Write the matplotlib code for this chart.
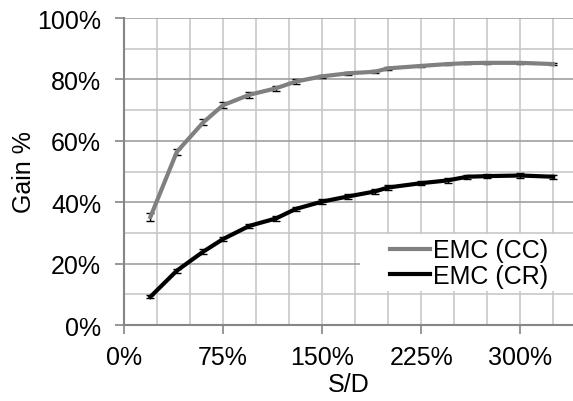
import numpy as np
import matplotlib.pyplot as plt
from matplotlib.lines import Line2D
from matplotlib.patches import Rectangle
from matplotlib.ticker import MultipleLocator, FuncFormatter

plt.rcParams['font.family'] = ['Liberation Sans', 'DejaVu Sans']

# ganho medido em funcao da razao S/D (em %)
sd = [20, 40, 60, 75, 95, 115, 130, 150, 170, 190, 200, 225, 245, 260, 275, 300, 325]
gain_cc = [35.2, 56.4, 66.0, 71.6, 75.0, 77.1, 79.3, 81.0, 82.0, 82.5, 83.6, 84.4, 85.0, 85.3, 85.4, 85.4, 85.0]
err_cc = [1.35, 1.0, 1.0, 1.0, 1.0, 0.8, 0.7, 0.6, 0.5, 0.5, 0.4, 0.3, 0.3, 0.3, 0.3, 0.3, 0.3]
gain_cr = [9.2, 17.7, 23.9, 28.0, 32.3, 34.7, 37.8, 40.2, 41.9, 43.5, 44.8, 46.2, 47.1, 48.3, 48.5, 48.7, 48.3]
err_cr = [0.5, 0.6, 0.7, 0.7, 0.7, 0.7, 0.7, 0.7, 0.7, 0.7, 0.7, 0.7, 0.7, 0.7, 0.7, 0.7, 0.7]

cor_cc = '#808080'
cor_cr = 'black'
fs = 18

fig = plt.figure(figsize=(5.73, 4.02), dpi=100)
ax = fig.add_axes([0.2164, 0.189, 0.7836, 0.7637])

ax.errorbar(sd, gain_cc, yerr=err_cc, color=cor_cc, lw=3, ecolor='black',
            elinewidth=1, capsize=3, capthick=1, zorder=3)
ax.errorbar(sd, gain_cr, yerr=err_cr, color=cor_cr, lw=3, ecolor='black',
            elinewidth=1, capsize=3, capthick=1, zorder=3)

ax.set_xlim(0, 340)
ax.set_ylim(0, 100)
ax.xaxis.set_major_locator(MultipleLocator(75))
ax.xaxis.set_minor_locator(MultipleLocator(25))
ax.yaxis.set_major_locator(MultipleLocator(20))
ax.yaxis.set_minor_locator(MultipleLocator(10))
pct = FuncFormatter(lambda v, p: f'{v:.0f}%')
ax.xaxis.set_major_formatter(pct)
ax.yaxis.set_major_formatter(pct)

ax.set_axisbelow(True)
ax.grid(True, which='major', axis='y', color='#a0a0a0', lw=1.2)
ax.grid(True, which='minor', axis='y', color='#c8c8c8', lw=1.2)
ax.grid(True, which='both', axis='x', color='#c8c8c8', lw=1.2)

for s in ['top', 'right']:
    ax.spines[s].set_visible(False)
for s in ['left', 'bottom']:
    ax.spines[s].set_color('#868686')
    ax.spines[s].set_linewidth(1.5)

ax.tick_params(which='major', direction='out', length=6.5, width=1.2, color='#868686',
               labelsize=fs)
ax.tick_params(axis='y', pad=10)
ax.tick_params(axis='x', pad=8)
ax.tick_params(which='minor', length=0)

ax.set_xlabel('S/D', fontsize=fs, labelpad=2)
ax.set_ylabel('Gain %', fontsize=fs, labelpad=1)

# fundo branco da legenda sobre a grade
ax.add_patch(Rectangle((360 / 573, 1 - 292 / 402), 213 / 573, 57 / 402,
                       transform=fig.transFigure, facecolor='white',
                       edgecolor='none', zorder=1))
handles = [Line2D([], [], color=cor_cc, lw=3), Line2D([], [], color=cor_cr, lw=3)]
ax.legend(handles, ['EMC (CC)', 'EMC (CR)'], loc='center left',
          bbox_to_anchor=(390 / 573, 1 - 264 / 402),
          bbox_transform=fig.transFigure, frameon=False, fontsize=fs,
          handlelength=1.6, handletextpad=0.12, labelspacing=0.05,
          borderpad=0, borderaxespad=0)

fig.savefig('out.png', dpi=100)
